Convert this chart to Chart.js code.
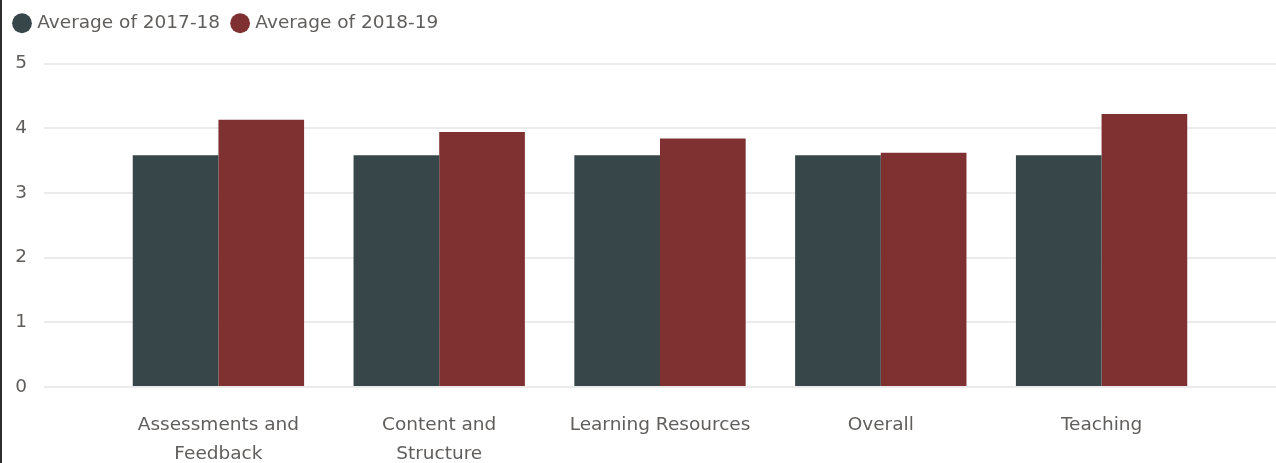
<!DOCTYPE html>
<html>
<head>
<meta charset="utf-8">
<script src="https://cdn.jsdelivr.net/npm/chart.js@4.4.0/dist/chart.umd.min.js"></script>
<style>
    html, body { margin: 0; padding: 0; background: #fff; }
    #wrap { width: 1274px; height: 463px; border-left: 2px solid #2e2e2e; }
</style>
</head>
<body>
<div id="wrap"><canvas id="chart" width="1274" height="463"></canvas></div>
<script>
// Data
const categories = [['Assessments and', 'Feedback'], ['Content and', 'Structure'], 'Learning Resources', 'Overall', 'Teaching'];
const seriesNames = ['Average of 2017-18', 'Average of 2018-19'];
const avg1718 = [3.58, 3.58, 3.58, 3.58, 3.58];
const avg1819 = [4.13, 3.94, 3.84, 3.62, 4.22];
const yTicks = [0, 1, 2, 3, 4, 5];

const textColor = '#605E5C';
const fontFamily = "'DejaVu Sans', sans-serif";
const fontSize = 18.5;

// bar x positions come from the category index on a linear scale
const toPoints = (values) => values.map((v, i) => ({ x: i, y: v }));

// extra room under the legend
const legendSpace = {
    id: 'legendSpace',
    beforeInit(chart) {
        const fit = chart.legend.fit;
        chart.legend.fit = function () {
            fit.bind(chart.legend)();
            this.height += 21;
        };
    }
};

new Chart(document.getElementById('chart').getContext('2d'), {
    type: 'bar',
    data: {
        datasets: [
            {
                label: seriesNames[0],
                data: toPoints(avg1718),
                backgroundColor: '#374649',
                categoryPercentage: 0.776,
                barPercentage: 1,
            },
            {
                label: seriesNames[1],
                data: toPoints(avg1819),
                backgroundColor: '#7F3030',
                categoryPercentage: 0.776,
                barPercentage: 1,
            },
        ],
    },
    options: {
        responsive: false,
        animation: false,
        layout: { padding: 0 },
        plugins: {
            legend: {
                position: 'top',
                align: 'start',
                labels: {
                    usePointStyle: true,
                    pointStyle: 'circle',
                    boxWidth: 12,
                    boxHeight: 14,
                    padding: 14,
                    color: textColor,
                    font: { family: fontFamily, size: fontSize },
                },
            },
            tooltip: { enabled: false },
        },
        scales: {
            x: {
                type: 'linear',
                offset: false,
                min: -0.79,
                max: 4.79,
                afterBuildTicks: (scale) => {
                    scale.ticks = categories.map((c, i) => ({ value: i }));
                },
                afterFit: (scale) => { scale.height = 76; },
                grid: { display: false },
                border: { display: false },
                ticks: {
                    color: textColor,
                    font: { family: fontFamily, size: fontSize, lineHeight: 1.6 },
                    padding: 15,
                    maxRotation: 0,
                    autoSkip: false,
                    callback: (value) => categories[value],
                },
            },
            y: {
                min: yTicks[0],
                max: yTicks[yTicks.length - 1],
                afterBuildTicks: (scale) => {
                    scale.ticks = yTicks.map((v) => ({ value: v }));
                },
                afterFit: (scale) => { scale.width = 42; },
                grid: { color: '#EBEBEB', lineWidth: 2, drawTicks: false },
                border: { display: false },
                ticks: {
                    color: textColor,
                    font: { family: fontFamily, size: fontSize },
                    padding: 17,
                },
            },
        },
    },
    plugins: [legendSpace],
});
</script>
</body>
</html>
